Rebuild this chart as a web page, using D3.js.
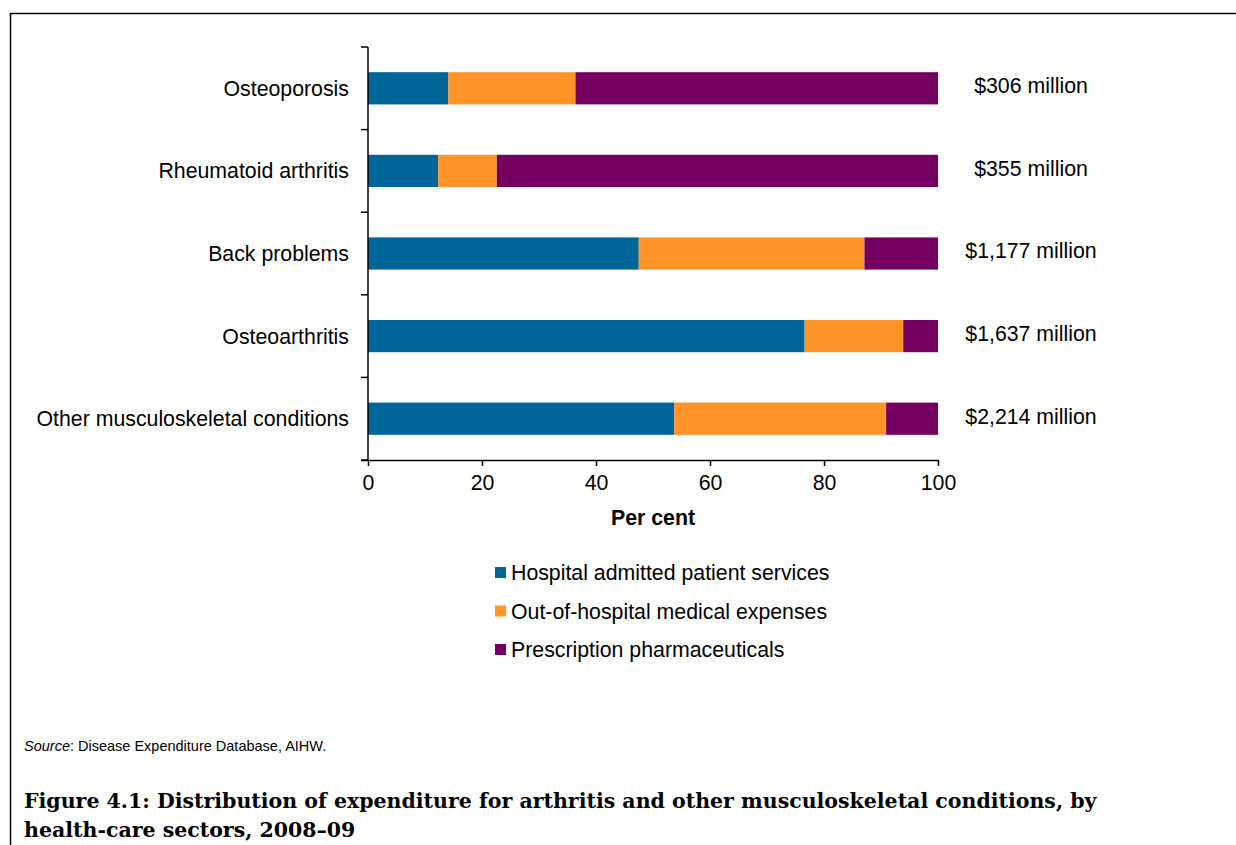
<!DOCTYPE html>
<html><head><meta charset="utf-8">
<script src="https://cdn.jsdelivr.net/npm/d3@7"></script>
<style>body{margin:0;background:#fff}svg{display:block}</style>
</head><body>
<script>
const categories = ["Osteoporosis","Rheumatoid arthritis","Back problems","Osteoarthritis","Other musculoskeletal conditions"];
const seriesNames = ["Hospital admitted patient services","Out-of-hospital medical expenses","Prescription pharmaceuticals"];
const hospital = [14.1, 12.3, 47.5, 76.6, 53.7];
const outOfHospital = [22.3, 10.3, 39.6, 17.3, 37.2];
const pharma = [63.6, 77.4, 12.9, 6.1, 9.1];
const totals = ["$306 million","$355 million","$1,177 million","$1,637 million","$2,214 million"];
const xTicks = [0,20,40,60,80,100];
const colors = ["#006699","#FF9428","#730060"];

const W=1236,H=845;
const svg=d3.select("body").append("svg").attr("width",W).attr("height",H);
const font="Liberation Sans, Arial, sans-serif";
const fs=21.3;

// frame
svg.append("line").attr("x1",10).attr("x2",W).attr("y1",13.5).attr("y2",13.5).attr("stroke","#000").attr("stroke-width",1.5);
svg.append("line").attr("x1",10.5).attr("x2",10.5).attr("y1",13).attr("y2",H).attr("stroke","#000").attr("stroke-width",1.5);

const x=d3.scaleLinear().domain([0,100]).range([368,938]);
const y=d3.scaleBand().domain(categories).range([47,460]).paddingInner(0.61).paddingOuter(0.305);

const rows=categories.map((c,i)=>({cat:c,vals:[hospital[i],outOfHospital[i],pharma[i]]}));
const stack=d3.stack().keys([0,1,2]).value((d,k)=>d.vals[k]);
const layers=stack(rows);

svg.append("g").selectAll("g").data(layers).join("g").attr("fill",(d,i)=>colors[i])
 .selectAll("rect").data(d=>d).join("rect")
 .attr("x",d=>x(d[0])).attr("width",d=>x(d[1])-x(d[0]))
 .attr("y",d=>y(d.data.cat)).attr("height",y.bandwidth());

// y axis
const yAx=svg.append("g");
yAx.append("line").attr("x1",368).attr("x2",368).attr("y1",47).attr("y2",460).attr("stroke","#000").attr("stroke-width",1.5);
const bounds=d3.range(categories.length+1).map(i=>47+i*(413/categories.length));
yAx.selectAll(".yt").data(bounds).join("line").attr("x1",361).attr("x2",368).attr("y1",d=>d).attr("y2",d=>d).attr("stroke","#000").attr("stroke-width",1.5);
yAx.selectAll("text").data(categories).join("text")
 .attr("x",349).attr("y",c=>y(c)+y.bandwidth()/2).attr("dy","0.35em").attr("text-anchor","end")
 .attr("font-family",font).attr("font-size",fs).attr("fill","#000").text(d=>d);

// x axis
const xAx=svg.append("g").attr("transform","translate(0,460)")
 .call(d3.axisBottom(x).tickValues(xTicks).tickSize(6).tickSizeOuter(0).tickPadding(9));
xAx.select(".domain").attr("stroke","#000").attr("stroke-width",1.5).attr("d","M361,0.5H938");
xAx.selectAll(".tick line").attr("stroke","#000").attr("stroke-width",1.5);
xAx.selectAll("text").attr("font-family",font).attr("font-size",fs).attr("fill","#000");

svg.append("text").attr("x",653).attr("y",525).attr("text-anchor","middle").attr("font-family",font).attr("font-size",fs).attr("font-weight","bold").text("Per cent");

// totals
svg.append("g").selectAll("text").data(categories).join("text")
 .attr("x",1031).attr("y",(c)=>y(c)+y.bandwidth()/2-2.5).attr("dy","0.35em").attr("text-anchor","middle")
 .attr("font-family",font).attr("font-size",fs).text((c,i)=>totals[i]);

// legend
const lg=svg.append("g");
seriesNames.forEach((s,i)=>{
  const yy=573+i*38.5;
  lg.append("rect").attr("x",495).attr("y",yy-6).attr("width",11).attr("height",11).attr("fill",colors[i]);
  lg.append("text").attr("x",511).attr("y",yy).attr("dy","0.35em").attr("font-family",font).attr("font-size",fs).text(s);
});

// source
const src=svg.append("text").attr("x",24).attr("y",751).attr("font-family",font).attr("font-size",14.5);
src.append("tspan").attr("font-style","italic").text("Source");
src.append("tspan").text(": Disease Expenditure Database, AIHW.");

// title
const tf="Palatino Linotype, Book Antiqua, DejaVu Serif, serif";
const t=svg.append("g").attr("font-family",tf).attr("font-weight","bold").attr("font-size",20.5);
t.append("text").attr("x",24).attr("y",808).text("Figure 4.1: Distribution of expenditure for arthritis and other musculoskeletal conditions, by");
t.append("text").attr("x",24).attr("y",837).text("health-care sectors, 2008–09");
</script>
</body></html>
